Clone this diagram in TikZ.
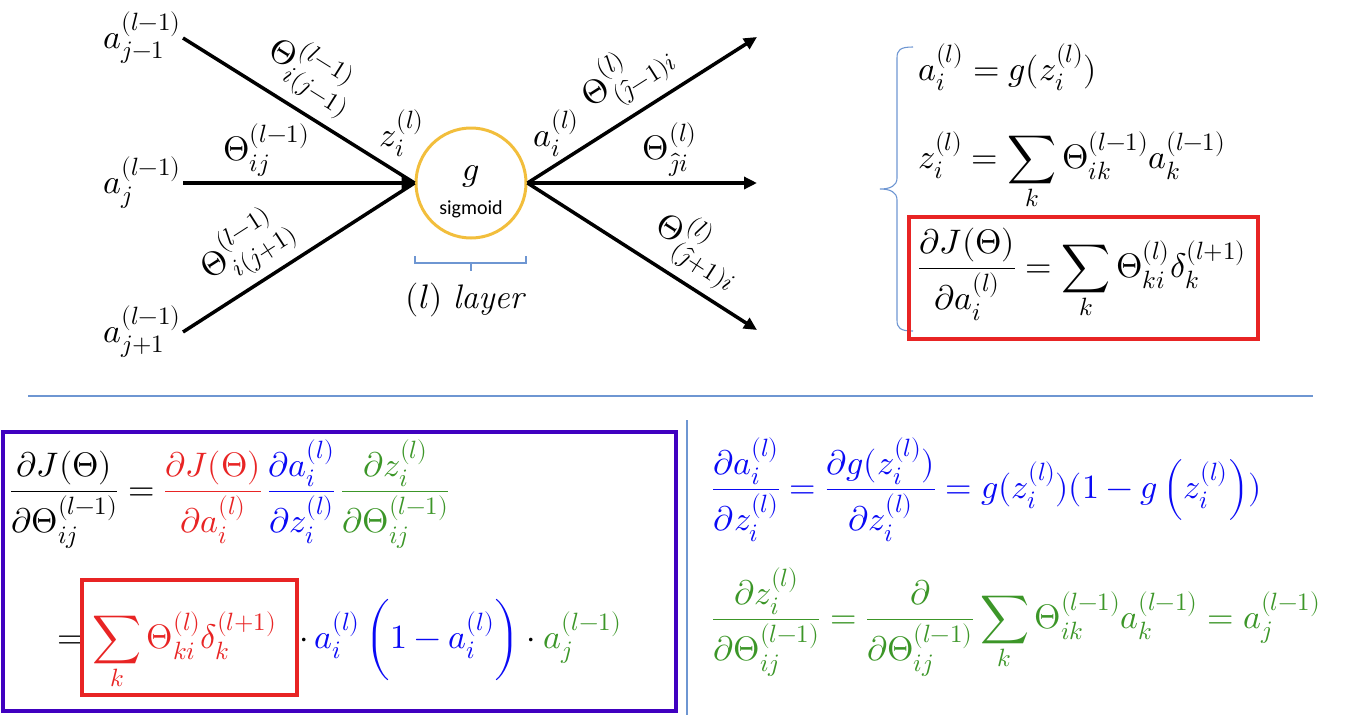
\documentclass[tikz,border=0pt]{standalone}
\usepackage{amsmath}
\usepackage{unicode-math}
\setmathfont{Latin Modern Math}
\newfontfamily\calibri{Carlito}
\DeclareMathSizes{34}{34}{25}{19}
\usetikzlibrary{arrows.meta}
\definecolor{myred}{RGB}{232,36,36}
\definecolor{myblue}{RGB}{10,10,245}
\definecolor{mygreen}{RGB}{60,150,40}
\definecolor{mypurple}{RGB}{64,0,192}
\definecolor{gold}{RGB}{242,190,60}
\definecolor{sepblue}{RGB}{110,150,210}
\begin{document}
\begin{tikzpicture}[x=1pt,y=-1pt,
  every node/.style={font=\fontsize{34}{40}\selectfont, inner sep=2pt},
  edge/.style={line width=3.5pt},
  arr/.style={edge, -{Triangle[length=13pt,width=12pt]}},
  sepline/.style={draw=sepblue, line width=1.1pt},
  redbox/.style={draw=myred, line width=3.5pt, rectangle, inner sep=0pt},
]
\useasboundingbox (0,0) rectangle (1347,715);
% ---------- network ----------
\node[anchor=east] (aj1) at (183,38) {$a_{j-1}^{(l-1)}$};
\node[anchor=east] (aj) at (183,183) {$a_{j}^{(l-1)}$};
\node[anchor=east] (aj3) at (183,332) {$a_{j+1}^{(l-1)}$};
\node[circle, draw=gold, line width=3pt, minimum size=110pt, inner sep=0pt] (g) at (471,183) {};
\node (gl) at (471,176) {$g$};
\node[font=\calibri\fontsize{20}{24}\selectfont] (sig) at (471,209) {sigmoid};
\coordinate (o1) at (757,37);
\coordinate (o2) at (757,183);
\coordinate (o3) at (757,330);
\draw[edge] (aj1.east) -- node[sloped, above=9pt, pos=.47, inner sep=0pt] (t1) {$\Theta^{(l-1)}_{i(j-1)}$} (g.west);
\draw[arr] (aj.east) -- node[above=3pt, pos=.36] (t2) {$\Theta^{(l-1)}_{ij}$} (g.west);
\draw[edge] (aj3.east) -- node[sloped, above=8pt, pos=.36, inner sep=0pt] (t3) {$\Theta^{(l-1)}_{i(j+1)}$} (g.west);
\draw[arr] (g.east) -- node[sloped, above=9pt, pos=.52, inner sep=0pt] (u1) {$\Theta^{(l)}_{(\hat{\jmath}-1)i}$} (o1);
\draw[arr] (g.east) -- node[above=3pt, pos=.62] (u2) {$\Theta^{(l)}_{\hat{\jmath}i}$} (o2);
\draw[arr] (g.east) -- node[sloped, above=8pt, pos=.66, inner sep=0pt] (u3) {$\Theta^{(l)}_{(\hat{\jmath}+1)i}$} (o3);
\node (zl) at (402,133) {$z_i^{(l)}$};
\node (al) at (556,133) {$a_i^{(l)}$};
\draw[draw=sepblue, line width=1.1pt] (415,256) -- (415,263) -- (526,263) -- (526,256) (471,263) -- (471,271);
\node (layer) at (466,300) {$(l)$ \textit{layer}};
% ---------- right panel ----------
\draw[sepline] (913,47) .. controls (900,47) and (897,50) .. (897,58) -- (897,178)
  .. controls (897,186) and (890,189) .. (880,189) .. controls (890,189) and (897,192) .. (897,200)
  -- (897,320) .. controls (897,328) and (900,331) .. (913,331);
\node[anchor=base west] (e1) at (916,80) {$a_i^{(l)} = g(z_i^{(l)})$};
\node[anchor=base west] (e2) at (916,168) {$\displaystyle z_i^{(l)} = \sum_k \Theta_{ik}^{(l-1)} a_k^{(l-1)}$};
\node[redbox, minimum width=349pt, minimum height=122pt] (rb1) at (1083.5,278) {};
\node[anchor=base west] (e3) at (916,277) {$\displaystyle \frac{\partial J(\Theta)}{\partial a_i^{(l)}} = \sum_k \Theta_{ki}^{(l)}\delta_k^{(l+1)}$};
% ---------- separators ----------
\draw[sepline] (28,396) -- (1313,396);
\draw[sepline] (687,420) -- (687,715);
% ---------- bottom left ----------
\node[draw=mypurple, line width=4.5pt, rectangle, minimum width=673pt, minimum height=279pt, inner sep=0pt] (pb) at (339.5,571.5) {};
\node[anchor=base west] (b1) at (8,500) {$\displaystyle \frac{\partial J(\Theta)}{\partial\Theta_{ij}^{(l-1)}} = {\color{myred}\frac{\partial J(\Theta)}{\partial a_i^{(l)}}}\,{\color{myblue}\frac{\partial a_i^{(l)}}{\partial z_i^{(l)}}}\,{\color{mygreen}\frac{\partial z_i^{(l)}}{\partial \Theta_{ij}^{(l-1)}}}$};
\node[anchor=base east] (beq) at (86,648) {$=$};
\node[redbox, minimum width=215pt, minimum height=115pt] (rb2) at (189.5,637.5) {};
\node[anchor=base west] (bs) at (90,648) {$\displaystyle\color{myred}\sum_k \Theta_{ki}^{(l)}\delta_k^{(l+1)}$};
\node[anchor=base west] (b2) at (297,648) {$\cdot\, {\color{myblue} a_i^{(l)}\,\biggl(1-a_i^{(l)}\biggr)} \cdot {\color{mygreen} a_j^{(l-1)}}$};
% ---------- bottom right ----------
\node[anchor=base west, text=myblue] (c1) at (710,498) {$\displaystyle\frac{\partial a_i^{(l)}}{\partial z_i^{(l)}} = \frac{\partial g(z_i^{(l)})}{\partial z_i^{(l)}} = g(z_i^{(l)})(1-g\left(z_i^{(l)}\right))$};
\node[anchor=base west, text=mygreen] (c2) at (710,628) {$\displaystyle\frac{\partial z_i^{(l)}}{\partial\Theta_{ij}^{(l-1)}} = \frac{\partial}{\partial\Theta_{ij}^{(l-1)}}\sum_k \Theta_{ik}^{(l-1)} a_k^{(l-1)} = a_j^{(l-1)}$};
\end{tikzpicture}
\end{document}
